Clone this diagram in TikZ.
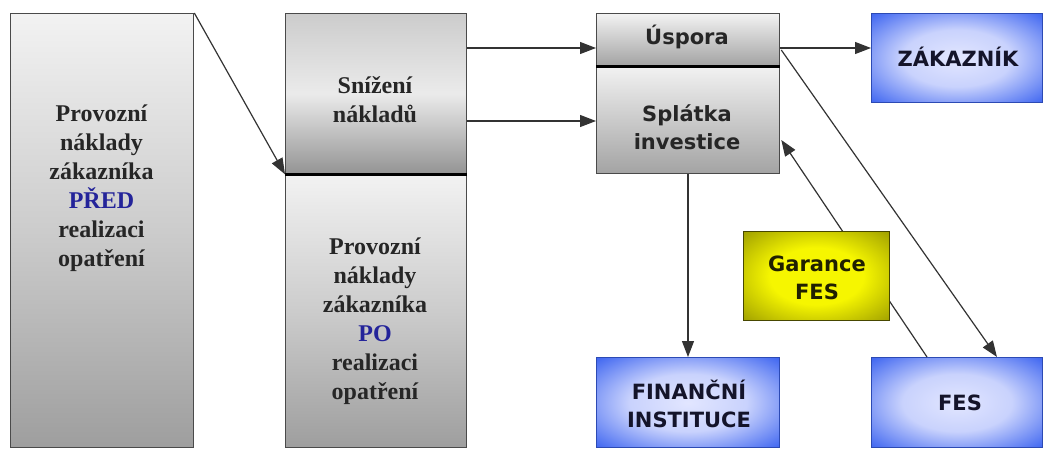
\documentclass[tikz,border=0pt]{standalone}
\usepackage{fontspec}
\setmainfont{Liberation Serif}
\newfontfamily\boxsans{DejaVu Sans}
\usetikzlibrary{arrows.meta,calc}
\definecolor{edgegray}{HTML}{4A4A4A}
\definecolor{navytext}{HTML}{24249A}
\definecolor{bluebox}{HTML}{3A62F0}
\definecolor{bluelight}{HTML}{E2E6FF}
\definecolor{olivebox}{HTML}{9E9E00}
\definecolor{yellowlight}{HTML}{F6F600}
\definecolor{bluetext}{HTML}{14142A}
\pgfdeclareradialshading{blueglow}{\pgfpoint{0bp}{0bp}}{color(0bp)=(bluelight); color(16bp)=(bluelight!85!bluebox); color(36bp)=(bluebox); color(50bp)=(bluebox)}
\pgfdeclareradialshading{yellowglow}{\pgfpoint{0bp}{0bp}}{color(0bp)=(yellowlight); color(16bp)=(yellowlight); color(36bp)=(olivebox); color(50bp)=(olivebox)}
\tikzset{
  box/.style={rectangle, anchor=north west, inner sep=0pt, draw=edgegray, line width=1.3pt},
  graybox/.style={box, top color=white!95!black, bottom color=black!38, middle color=black!20},
  lightgraybox/.style={box, top color=white!95!black, bottom color=black!36},
  midgraybox/.style={box, top color=black!20, bottom color=black!42, middle color=white!92!black},
  bluebx/.style={box, draw=black!25!bluebox, shading=blueglow},
  yellowbx/.style={box, draw=black!55!olivebox, shading=yellowglow},
  serift/.style={align=center, font=\bfseries\fontsize{24}{29}\selectfont, text=black!85},
  sanst/.style={align=center, font=\boxsans\bfseries\fontsize{21}{28}\selectfont, text=bluetext},
  arr/.style={line width=1.2pt, draw=black!80, -{Triangle[length=16pt,width=12pt]}},
  divider/.style={line width=2.6pt, draw=black}
}
\begin{document}
\begin{tikzpicture}[x=1pt,y=-1pt]
\useasboundingbox (0,0) rectangle (1045,448);
% boxes
\node[graybox, minimum width=183pt, minimum height=434pt] (left) at (10,13) {};
\node[midgraybox, minimum width=181pt, minimum height=160pt] (sniz) at (285,13) {};
\node[graybox, minimum width=181pt, minimum height=274pt] (po) at (285,173) {};
\node[lightgraybox, minimum width=183pt, minimum height=52pt] (usp) at (596,13) {};
\node[lightgraybox, minimum width=183pt, minimum height=108pt] (spl) at (596,65) {};
\node[bluebx, minimum width=171pt, minimum height=89pt] (zak) at (871,13) {};
\node[bluebx, minimum width=183pt, minimum height=90pt] (fin) at (596,357) {};
\node[bluebx, minimum width=171pt, minimum height=90pt] (fes) at (871,357) {};
% dividers
\draw[divider] (sniz.south west) -- (sniz.south east);
\draw[divider] (usp.south west) -- (usp.south east);
% connectors
\draw[arr] (left.north east) -- (sniz.south west);
\draw[arr] ($(sniz.north east)+(0,35)$) -- ($(usp.north west)+(0,35)$);
\draw[arr] ($(sniz.north east)+(0,108)$) -- ($(spl.north west)+(0,56)$);
\draw[arr] ($(usp.north east)+(0,35)$) -- ($(zak.north west)+(0,35)$);
\draw[arr] ($(usp.north east)+(1,37)$) -- ($(fes.north west)+(126,0)$);
\draw[arr] ($(spl.south west)+(92,0)$) -- ($(fin.north west)+(92,0)$);
\draw[arr] ($(fes.north west)+(56,0)$) -- ($(spl.north east)+(1,75)$);
% Garance box on top of line
\node[yellowbx, minimum width=146pt, minimum height=89pt] (gar) at (743,231) {};
% texts
\node[serift] (tleft) at (101.5,188) {Provozní\\náklady\\zákazníka\\\textcolor{navytext}{PŘED}\\realizaci\\opatření};
\node[serift] (tsniz) at (375,100) {Snížení\\nákladů};
\node[serift] (tpo) at (375,321) {Provozní\\náklady\\zákazníka\\\textcolor{navytext}{PO}\\realizaci\\opatření};
\node[sanst, text=black!85] (tusp) at (687,37) {Úspora};
\node[sanst, text=black!85] (tspl) at (687,127) {Splátka\\investice};
\node[sanst] (tzak) at (958,57) {ZÁKAZNÍK};
\node[sanst] (tfin) at (689,404) {FINANČNÍ\\INSTITUCE};
\node[sanst] (tfes) at (960,403) {FES};
\node[sanst, text=black!80!olivebox] (tgar) at (817,278) {Garance\\FES};
\end{tikzpicture}
\end{document}
